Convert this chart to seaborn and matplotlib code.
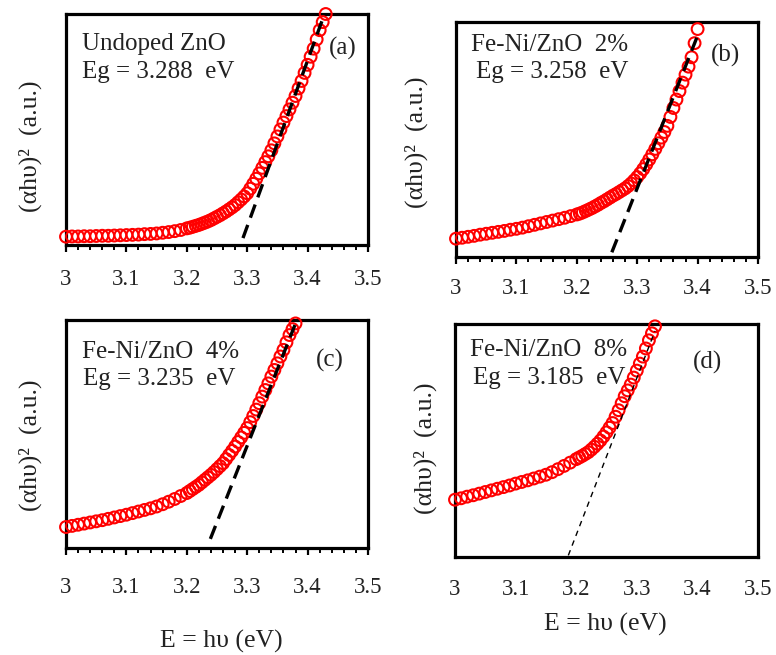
import matplotlib
matplotlib.use("Agg")
import matplotlib.pyplot as plt
import seaborn as sns
from matplotlib.ticker import MultipleLocator

sns.set_theme(style="white")
plt.rcParams['font.family'] = ['Liberation Serif', 'DejaVu Serif']

# photon energy (eV) and (alpha h nu)^2 in arbitrary units
x_a = [3.00, 3.01, 3.02, 3.03, 3.04, 3.05, 3.06, 3.07, 3.08, 3.09, 3.10,
       3.11, 3.12, 3.13, 3.14, 3.15, 3.16, 3.17, 3.18, 3.19, 3.20,
       3.205, 3.21, 3.215, 3.22, 3.225, 3.23, 3.235, 3.24, 3.245, 3.25,
       3.255, 3.26, 3.265, 3.27, 3.275, 3.28, 3.285, 3.29, 3.295, 3.30,
       3.305, 3.31, 3.315, 3.32, 3.325, 3.33, 3.335, 3.34, 3.345, 3.35,
       3.355, 3.36, 3.365, 3.37, 3.375, 3.38, 3.385, 3.39, 3.395, 3.40,
       3.405, 3.41, 3.415, 3.42, 3.425, 3.43]
y_a = [.036, .037, .037, .038, .038, .039, .040, .040, .041, .042, .043,
       .044, .045, .047, .048, .050, .053, .056, .060, .065, .072,
       .075, .079, .083, .087, .092, .097, .102, .108, .115, .122,
       .129, .137, .145, .154, .163, .173, .185, .197, .210, .224,
       .244, .265, .287, .310, .334, .359, .384, .410, .440, .470,
       .500, .530, .558, .587, .616, .645, .678, .710, .745, .780,
       .815, .850, .890, .930, .965, 1.0]

x_b = [3.00, 3.01, 3.02, 3.03, 3.04, 3.05, 3.06, 3.07, 3.08, 3.09, 3.10,
       3.11, 3.12, 3.13, 3.14, 3.15, 3.16, 3.17, 3.18, 3.19, 3.20,
       3.205, 3.21, 3.215, 3.22, 3.225, 3.23, 3.235, 3.24, 3.245, 3.25,
       3.255, 3.26, 3.265, 3.27, 3.275, 3.28, 3.285, 3.29, 3.295, 3.30,
       3.305, 3.31, 3.315, 3.32, 3.325, 3.33, 3.335, 3.34, 3.345, 3.35,
       3.355, 3.36, 3.365, 3.37, 3.375, 3.38, 3.385, 3.39, 3.395, 3.40]
y_b = [.078, .082, .086, .090, .095, .099, .103, .107, .111, .116, .120,
       .125, .131, .137, .143, .149, .155, .161, .167, .174, .181,
       .185, .190, .196, .202, .208, .215, .222, .230, .237, .245,
       .253, .261, .268, .276, .284, .292, .302, .313, .326, .340,
       .356, .374, .394, .415, .437, .460, .484, .508, .532, .558,
       .596, .634, .670, .706, .742, .776, .810, .850, .910, .970]

x_c = [3.00, 3.01, 3.02, 3.03, 3.04, 3.05, 3.06, 3.07, 3.08, 3.09, 3.10,
       3.11, 3.12, 3.13, 3.14, 3.15, 3.16, 3.17, 3.18, 3.19, 3.20,
       3.205, 3.21, 3.215, 3.22, 3.225, 3.23, 3.235, 3.24, 3.245, 3.25,
       3.255, 3.26, 3.265, 3.27, 3.275, 3.28, 3.285, 3.29, 3.295, 3.30,
       3.305, 3.31, 3.315, 3.32, 3.325, 3.33, 3.335, 3.34, 3.345, 3.35,
       3.355, 3.36, 3.365, 3.37, 3.375, 3.38]
y_c = [.092, .097, .102, .107, .112, .117, .122, .128, .134, .140, .146,
       .153, .160, .167, .174, .182, .192, .203, .215, .228, .241,
       .250, .259, .268, .277, .288, .299, .310, .321, .333, .346,
       .359, .372, .390, .408, .426, .445, .465, .485, .505, .526,
       .552, .579, .607, .635, .664, .693, .722, .752, .781, .810,
       .840, .869, .902, .934, .960, .985]

x_d = [3.00, 3.01, 3.02, 3.03, 3.04, 3.05, 3.06, 3.07, 3.08, 3.09, 3.10,
       3.11, 3.12, 3.13, 3.14, 3.15, 3.16, 3.17, 3.18, 3.19, 3.20,
       3.205, 3.21, 3.215, 3.22, 3.225, 3.23, 3.235, 3.24, 3.245, 3.25,
       3.255, 3.26, 3.265, 3.27, 3.275, 3.28, 3.285, 3.29, 3.295, 3.30,
       3.305, 3.31, 3.315, 3.32, 3.325, 3.33]
y_d = [.246, .252, .259, .265, .272, .279, .286, .293, .300, .307, .315,
       .322, .329, .337, .345, .353, .364, .377, .391, .405, .420,
       .427, .434, .442, .450, .461, .473, .486, .500, .517, .535,
       .555, .575, .602, .630, .660, .690, .715, .740, .770, .800,
       .830, .860, .895, .930, .960, .990]

# linear fits extrapolated to the energy axis
fit_a = ([3.293, 3.428], [0.03, 1.0])
fit_b = ([3.258, 3.402], [0.02, 0.955])
fit_c = ([3.239, 3.379], [0.04, 0.978])
fit_d = ([3.187, 3.330], [0.007, 0.97])

names = ["Undoped ZnO", "Fe-Ni/ZnO  2%", "Fe-Ni/ZnO  4%", "Fe-Ni/ZnO  8%"]
gaps = ["Eg = 3.288  eV", "Eg = 3.258  eV", "Eg = 3.235  eV", "Eg = 3.185  eV"]
tags = ["(a)", "(b)", "(c)", "(d)"]
xticks = [3, 3.1, 3.2, 3.3, 3.4, 3.5]
xticklabels = ["3", "3.1", "3.2", "3.3", "3.4", "3.5"]

W, H = 776, 655
fig = plt.figure(figsize=(W / 100, H / 100), dpi=100)

# panel boxes in pixels: left, right, top, bottom
boxes = [(66, 368, 14, 245), (456, 758, 22, 257),
         (66, 368, 320, 548), (455, 758, 324, 557)]
pads = [12, 10, 16, 16]
text_pos = [((82, 44), (82, 72), (343, 48)),
            ((471, 45), (476, 72), (725, 55)),
            ((82, 352), (83, 379), (330, 360)),
            ((470, 350), (473, 378), (708, 362))]
ylab_pos = [(30, 146), (416, 142), (30, 445), (425, 448)]
txt = "#222222"

series = [(x_a, y_a, fit_a), (x_b, y_b, fit_b), (x_c, y_c, fit_c), (x_d, y_d, fit_d)]

for i, (xs, ys, fit) in enumerate(series):
    l, r, t, b = boxes[i]
    ax = fig.add_axes([l / W, 1 - b / H, (r - l) / W, (b - t) / H])
    sns.scatterplot(x=xs, y=ys, ax=ax, marker="o", s=72, facecolor="none",
                    edgecolor="red", linewidth=1.5, clip_on=False, zorder=4)
    if i < 3:
        sns.lineplot(x=fit[0], y=fit[1], ax=ax, color="black", lw=2.4,
                     linestyle=(0, (4.2, 2.3)), zorder=5)
    else:
        sns.lineplot(x=fit[0], y=fit[1], ax=ax, color="black", lw=1.0,
                     linestyle=(0, (4, 3.5)), zorder=5)
    ax.set_xlim(3, 3.5)
    ax.set_ylim(0, 1)
    ax.set_yticks([])
    ax.set_xticks(xticks)
    ax.set_xticklabels(xticklabels)
    for sp in ax.spines.values():
        sp.set_visible(True)
        sp.set_color("black")
        sp.set_linewidth(2.3)
    if i < 3:
        ax.xaxis.set_minor_locator(MultipleLocator(0.02))
        ax.tick_params(axis="x", which="major", direction="out", length=5,
                       width=1.6, color="black", pad=pads[i], labelsize=16.5,
                       labelcolor=txt, bottom=True)
        ax.tick_params(axis="x", which="minor", direction="out", length=3.5,
                       width=1.4, color="black", bottom=True)
    else:
        ax.tick_params(axis="x", which="major", length=0, pad=pads[i],
                       labelsize=16.5, labelcolor=txt)
    (nx, ny), (gx, gy), (tx, ty) = text_pos[i]
    fig.text(nx / W, 1 - ny / H, names[i], fontsize=18, color=txt,
             ha="left", va="center")
    fig.text(gx / W, 1 - gy / H, gaps[i], fontsize=18, color=txt,
             ha="left", va="center")
    fig.text(tx / W, 1 - ty / H, tags[i], fontsize=18, color=txt,
             ha="center", va="center")
    yx, yy = ylab_pos[i]
    fig.text(yx / W, 1 - yy / H, "(αhυ)²  (a.u.)", fontsize=18.5, color=txt,
             rotation=90, ha="center", va="center")

fig.text(221 / W, 1 - 641 / H, "E = hυ (eV)", fontsize=18.5, color=txt,
         ha="center", va="center")
fig.text(605 / W, 1 - 624 / H, "E = hυ (eV)", fontsize=18.5, color=txt,
         ha="center", va="center")

fig.savefig("out.png", dpi=100)
